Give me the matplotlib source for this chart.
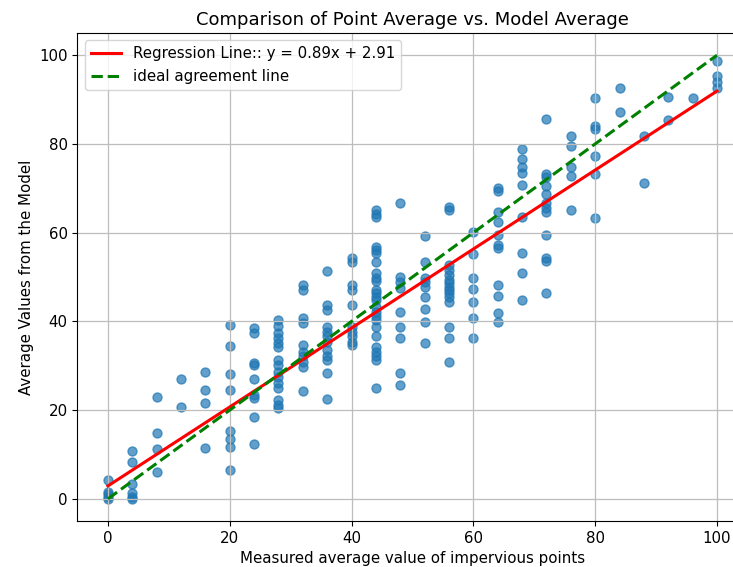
import matplotlib
matplotlib.use("Agg")
import matplotlib.pyplot as plt
import numpy as np

levels = [0, 4, 8, 12, 16, 20, 24, 28, 32, 36, 40, 44, 48, 52, 56, 60, 64, 68, 72, 76, 80, 84, 88, 92, 96, 100]
model_vals = [
    [4.3, 1.6, 1.0, 0.4, 0.0],
    [10.7, 8.2, 3.4, 1.3, 0.5, 0.0],
    [23.0, 14.9, 11.3, 6.0],
    [27.0, 20.6],
    [28.5, 24.5, 21.7, 11.4],
    [39.1, 34.4, 28.2, 24.5, 15.3, 13.4, 11.6, 6.5],
    [38.4, 37.3, 30.6, 30.2, 27.0, 23.3, 22.7, 18.5, 12.4],
    [40.3, 39.0, 37.3, 36.2, 35.1, 34.3, 31.3, 30.2, 28.7, 27.5, 26.1, 24.9, 22.3, 21.2, 20.4],
    [48.2, 47.1, 40.7, 39.6, 34.7, 33.2, 32.1, 30.9, 29.8, 24.2],
    [51.4, 43.7, 42.6, 38.8, 37.7, 36.6, 35.4, 33.6, 32.1, 31.3, 28.3, 22.5],
    [54.2, 53.4, 48.2, 47.1, 43.7, 38.8, 37.7, 36.6, 35.4, 34.7],
    [65.1, 64.3, 63.6, 56.7, 56.1, 55.3, 53.4, 50.8, 49.7, 49.0, 47.1, 46.3, 45.6, 44.8,
     43.3, 42.2, 41.1, 40.3, 38.8, 36.6, 34.3, 33.2, 32.1, 31.3, 24.9],
    [66.6, 50.1, 48.9, 47.5, 42.2, 38.8, 36.2, 28.3, 25.7],
    [59.2, 53.4, 49.7, 48.9, 47.8, 45.6, 42.7, 39.9, 35.2],
    [65.8, 65.1, 52.7, 51.6, 50.5, 49.3, 48.6, 47.8, 47.1, 46.3, 45.6, 44.4, 38.8, 36.3, 30.8],
    [60.2, 55.2, 49.7, 47.2, 44.4, 40.7, 36.3],
    [70.0, 69.4, 64.7, 62.5, 59.5, 57.2, 56.5, 48.2, 45.7, 41.8, 39.9],
    [78.8, 76.5, 74.8, 73.5, 70.7, 63.6, 55.3, 50.8, 44.8],
    [85.6, 73.3, 72.6, 70.6, 68.6, 66.6, 65.6, 64.7, 59.5, 54.3, 53.7, 46.3],
    [81.8, 79.5, 74.8, 72.7, 65.2],
    [90.4, 84.0, 83.3, 77.3, 73.2, 63.4],
    [92.5, 87.2],
    [81.8, 71.1],
    [90.6, 85.5],
    [90.4],
    [98.7, 95.3, 94.0, 92.5],
]

slope = 0.89
intercept = 2.91

measured = np.concatenate([[lv] * len(v) for lv, v in zip(levels, model_vals)])
model = np.concatenate(model_vals)

plt.rcParams['font.size'] = 10.8
plt.rcParams['grid.color'] = '#bdbdbd'
plt.rcParams['grid.linewidth'] = 0.9

fig = plt.figure(figsize=(7.33, 5.67), dpi=100)
ax = fig.add_axes([0.1057, 0.0811, 0.914, 0.8607])

ax.scatter(measured, model, alpha=0.7, s=42)

xs = np.array([0, 100])
ax.plot(xs, slope * xs + intercept, color='red', linewidth=2.2,
        label=f"Regression Line:: y = {slope:.2f}x + {intercept:.2f}")
ax.plot(xs, xs, color='green', linestyle='--', linewidth=2.2, label='ideal agreement line')

ax.set_xlabel('Measured average value of impervious points')
ax.set_ylabel('Average Values from the Model')
ax.set_title('Comparison of Point Average vs. Model Average', fontsize=13)
ax.legend(loc='upper left')
ax.grid(True)

fig.savefig('out.png', dpi=100)
